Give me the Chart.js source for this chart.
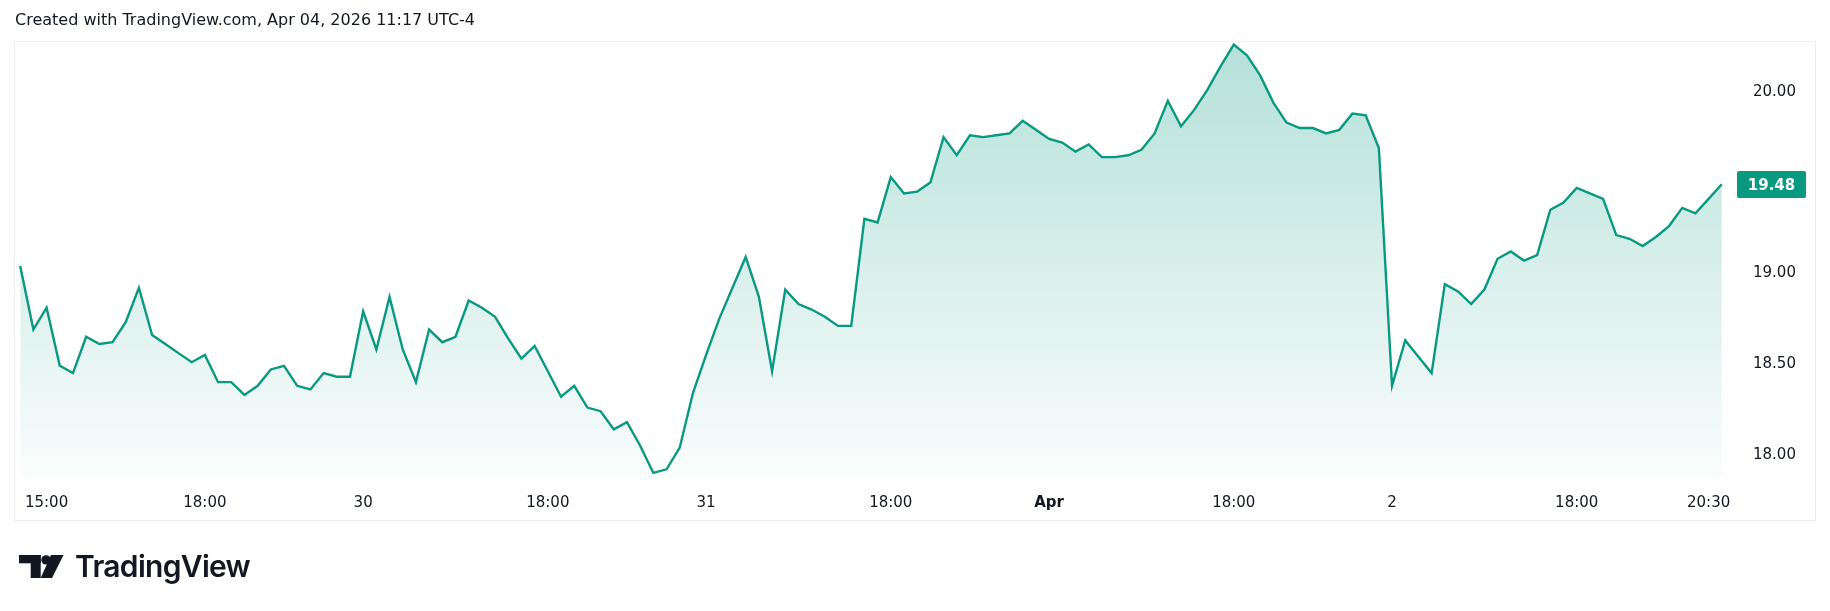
<!DOCTYPE html>
<html>
<head>
<meta charset="utf-8">
<title>TradingView snapshot</title>
<script src="https://cdn.jsdelivr.net/npm/chart.js@4.4.1/dist/chart.umd.min.js"></script>
<style>
    html, body { margin: 0; padding: 0; background: #fff; }
    #wrap { position: relative; width: 1830px; height: 611px; overflow: hidden; }
    #chart { position: absolute; left: 0; top: 0; }
    #header {
        position: absolute; left: 15px; top: 10px;
        font: 16px "DejaVu Sans", sans-serif; color: #131722; white-space: nowrap;
    }
    #logo { position: absolute; left: 19px; top: 551px; display: flex; align-items: center; }
    #logo span {
        font: 600 30px Inter, sans-serif; color: #131722; letter-spacing: -0.7px;
        margin-left: 11px; line-height: 30px;
    }
</style>
</head>
<body>
<div id="wrap">
    <canvas id="chart" width="1830" height="611"></canvas>
    <div id="header">Created with TradingView.com, Apr 04, 2026 11:17 UTC-4</div>
    <div id="logo">
        <svg width="45" height="23" viewBox="0 0 45 23">
            <rect x="0" y="0" width="21.7" height="8.3" fill="#131722"/>
            <rect x="11.7" y="0" width="10" height="23" fill="#131722"/>
            <circle cx="27" cy="4.9" r="4.7" fill="#131722"/>
            <polygon points="32,0 44.5,0 33,23 21.7,23" fill="#131722"/>
        </svg>
        <span>TradingView</span>
    </div>
</div>
<script>
// 15-min bars, Mar 27 14:30 .. Apr 2 20:45
const prices = [
    19.03, 18.68, 18.80, 18.48, 18.44, 18.64, 18.60, 18.61, 18.72, 18.91,
    18.65, 18.60, 18.55, 18.50, 18.54, 18.39, 18.39, 18.32, 18.37, 18.46,
    18.48, 18.37, 18.35, 18.44, 18.42, 18.42, 18.78, 18.57, 18.86, 18.57,
    18.39, 18.68, 18.61, 18.64, 18.84, 18.80, 18.75, 18.63, 18.52, 18.59,
    18.45, 18.31, 18.37, 18.25, 18.23, 18.13,
    18.17, 18.04, 17.89, 17.91, 18.03, 18.33, 18.54, 18.74, 18.91, 19.08,
    18.86, 18.45, 18.90, 18.82, 18.79, 18.75, 18.70, 18.70, 19.29, 19.27,
    19.52, 19.43, 19.44, 19.49, 19.74, 19.64, 19.75, 19.74, 19.75, 19.76,
    19.83, 19.78, 19.73, 19.71, 19.66, 19.70, 19.63, 19.63, 19.64, 19.67,
    19.76, 19.94, 19.80, 19.89, 20.00, 20.13,
    20.25, 20.19, 20.08, 19.93, 19.82, 19.79, 19.79, 19.76, 19.78, 19.87,
    19.86, 19.68, 18.37, 18.62, 18.53, 18.44, 18.93, 18.89, 18.82, 18.90,
    19.07, 19.11, 19.06, 19.09, 19.34, 19.38, 19.46, 19.43, 19.40, 19.20,
    19.18, 19.14, 19.19, 19.25, 19.35, 19.32, 19.40, 19.48
];

// bar index of each time label
const timeTickPos = [2, 14, 26, 40, 52, 66, 78, 92, 104, 118, 128];
const timeTickText = ["15:00", "18:00", "30", "18:00", "31", "18:00", "Apr", "18:00", "2", "18:00", "20:30"];
const priceTicks = [18, 18.5, 19, 20];
const lastPrice = 19.48;

const green = "#089981";
const textColor = "#131722";

document.addEventListener("DOMContentLoaded", function () {
    const ctx = document.getElementById("chart").getContext("2d");

    // frame around pane + axes
    const framePlugin = {
        id: "frame",
        beforeDraw(chart) {
            const c = chart.ctx;
            c.save();
            c.strokeStyle = "#eeeeee";
            c.lineWidth = 1;
            c.strokeRect(14.5, 41.5, 1801, 479);
            c.restore();
        }
    };

    // last price badge on the price axis
    const badgePlugin = {
        id: "badge",
        afterDraw(chart) {
            const c = chart.ctx;
            const y = chart.scales.y.getPixelForValue(lastPrice);
            c.save();
            c.fillStyle = green;
            c.beginPath();
            c.roundRect(1737, Math.round(y) - 13, 69, 27, 2);
            c.fill();
            c.fillStyle = "#ffffff";
            c.font = "bold 15px 'DejaVu Sans'";
            c.textAlign = "center";
            c.textBaseline = "middle";
            c.fillText(lastPrice.toFixed(2), 1771.5, y + 1.5);
            c.restore();
        }
    };

    new Chart(ctx, {
        type: "line",
        data: {
            datasets: [{
                data: prices.map((p, i) => ({ x: i, y: p })),
                borderColor: green,
                borderWidth: 2.4,
                pointRadius: 0,
                tension: 0,
                fill: "start",
                backgroundColor: function (context) {
                    const area = context.chart.chartArea;
                    if (!area) return "rgba(8,153,129,0.15)";
                    const g = context.chart.ctx.createLinearGradient(0, area.top, 0, area.bottom);
                    g.addColorStop(0, "rgba(8,153,129,0.30)");
                    g.addColorStop(1, "rgba(8,153,129,0.02)");
                    return g;
                }
            }]
        },
        options: {
            responsive: false,
            animation: false,
            layout: { padding: { left: 15, right: 15, top: 42, bottom: 91 } },
            plugins: { legend: { display: false }, tooltip: { enabled: false } },
            scales: {
                x: {
                    type: "linear",
                    min: -0.394,
                    max: 130.0,
                    grid: { display: false, drawTicks: false },
                    border: { display: false },
                    afterBuildTicks: function (scale) {
                        scale.ticks = timeTickPos.map(v => ({ value: v }));
                    },
                    afterFit: function (scale) { scale.height = 42; },
                    ticks: {
                        autoSkip: false,
                        maxRotation: 0,
                        padding: 16,
                        color: textColor,
                        font: function (c) {
                            const bold = c.tick && timeTickText[timeTickPos.indexOf(c.tick.value)] === "Apr";
                            return { family: "'DejaVu Sans'", size: 15, weight: bold ? "bold" : "normal" };
                        },
                        callback: function (v) {
                            const k = timeTickPos.indexOf(v);
                            return k >= 0 ? timeTickText[k] : "";
                        }
                    }
                },
                y: {
                    position: "right",
                    min: 17.862,
                    max: 20.264,
                    grid: { display: false, drawTicks: false },
                    border: { display: false },
                    afterBuildTicks: function (scale) {
                        scale.ticks = priceTicks.map(v => ({ value: v }));
                    },
                    afterFit: function (scale) { scale.width = 80; },
                    ticks: {
                        padding: 18,
                        labelOffset: 2,
                        color: textColor,
                        font: { family: "'DejaVu Sans'", size: 15 },
                        callback: v => v.toFixed(2)
                    }
                }
            }
        },
        plugins: [framePlugin, badgePlugin]
    });
});
</script>
</body>
</html>
